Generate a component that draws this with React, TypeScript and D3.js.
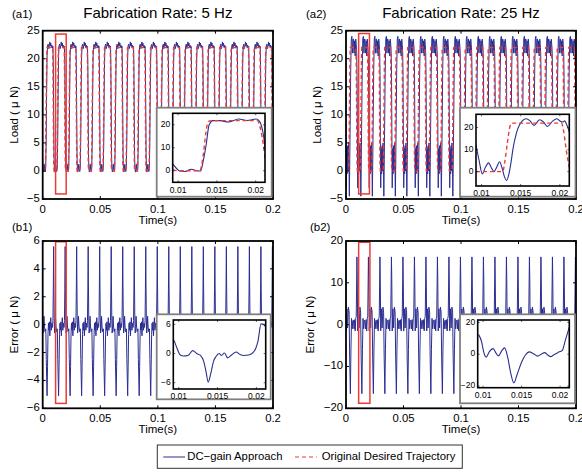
import * as d3 from "d3";

const W = 582;
const H = 473;
const FONT = "'Liberation Sans', Arial, Helvetica, sans-serif";
const BLUE = "#2b2e91";
const RED = "#ec3a36";
const GREY = "#808080";

// tick values
const TIME_TICKS = [0, 0.05, 0.1, 0.15, 0.2];
const LOAD_TICKS = [-5, 0, 5, 10, 15, 20, 25];
const ERR5_TICKS = [-6, -4, -2, 0, 2, 4, 6];
const ERR25_TICKS = [-20, -10, 0, 10, 20];
const INSET_TIME_TICKS = [0.01, 0.015, 0.02];
const INSET_LOAD_TICKS = [0, 10, 20];
const INSET_ERR5_TICKS = [-6, 0, 6];
const INSET_ERR25_TICKS = [-20, 0, 20];

// start time of every 0.01 s cycle (phase 0 = middle of the high plateau)
const CYCLE_STARTS = [
  -0.0035, 0.0065, 0.0165, 0.0265, 0.0365, 0.0465, 0.0565, 0.0665, 0.0765, 0.0865, 0.0965,
  0.1065, 0.1165, 0.1265, 0.1365, 0.1465, 0.1565, 0.1665, 0.1765, 0.1865, 0.1965,
];

// one cycle of the desired trajectory (both rates)
const DESIRED_PHASE = [0, 0.0022, 0.0025, 0.0028, 0.0031, 0.0034, 0.0058, 0.0061, 0.0065, 0.0069, 0.0072, 0.01];
const DESIRED_LOAD = [22, 22, 17, 8, 1, 0, 0, 3, 11, 19, 22, 22];

// one cycle of the DC-gain response, 5 Hz
const LOAD5_PHASE = [0, 0.0005, 0.001, 0.0015, 0.002, 0.0024, 0.0027, 0.003, 0.0033, 0.0036, 0.004, 0.0044, 0.0048, 0.0052, 0.0057, 0.0061, 0.0065, 0.0069, 0.0073, 0.0077, 0.0082, 0.0087, 0.0092, 0.0096, 0.01];
const LOAD5 = [22.3, 22.8, 22.0, 22.4, 21.9, 22.2, 19, 11, 3, 0.5, -0.2, 0.3, 1.2, 0.2, -0.1, 0.5, 5, 14, 20.5, 22.3, 22.6, 21.8, 22.3, 23.0, 22.3];

// one cycle of the DC-gain response, 25 Hz
const LOAD25_PHASE = [0, 0.0005, 0.001, 0.0015, 0.002, 0.0024, 0.0028, 0.0031, 0.0034, 0.0037, 0.0041, 0.0045, 0.0049, 0.0053, 0.0057, 0.0061, 0.0064, 0.0068, 0.0072, 0.0076, 0.0081, 0.0086, 0.0091, 0.0096, 0.01];
const LOAD25 = [23.5, 21.0, 23.2, 20.5, 23.5, 22.5, 21, 17, 6, -3, 4, -0.5, 4.5, 0, 5, 1, -4.5, 2, 10, 18, 23.5, 24, 21, 23.5, 23.5];

// one cycle of the error, 5 Hz
const ERR5_PHASE = [0, 0.0005, 0.001, 0.0015, 0.002, 0.0024, 0.0027, 0.003, 0.0032, 0.0035, 0.0038, 0.0042, 0.0046, 0.005, 0.0055, 0.0062, 0.0066, 0.0073, 0.0077, 0.0081, 0.0085, 0.0089, 0.0093, 0.0097, 0.01];
const ERR5 = [-0.3, 0.5, -0.4, 0.1, -0.2, 0.3, 2.5, 5.6, 3.0, 0.5, -0.6, -0.3, 0.6, -0.1, -0.5, -0.3, -2.5, -5.1, -3.0, -0.7, 0.1, -0.4, 0.2, -0.8, -0.3];

// one cycle of the error, 25 Hz
const ERR25_PHASE = [0, 0.0005, 0.001, 0.0015, 0.002, 0.0024, 0.0027, 0.003, 0.0033, 0.0037, 0.0043, 0.0049, 0.0056, 0.0062, 0.0067, 0.0073, 0.0078, 0.0083, 0.0089, 0.0094, 0.01];
const ERR25 = [1.0, -1.0, 1.2, -1.5, 1.5, 2.0, 9, 16.2, 11, -1.5, 3.8, -0.8, 4.2, 3.0, -8, -16.5, -6, 1.5, -1.0, 1.0, 1.0];

// zoomed window shown in the insets
const INSET_T_DOMAIN = [0.0093, 0.0212];
const INSET_LOAD5_T = [0.0093, 0.0098, 0.0102, 0.0109, 0.0117, 0.0124, 0.0129, 0.0132, 0.0136, 0.014, 0.0145, 0.0154, 0.0165, 0.0178, 0.0189, 0.0201, 0.0205, 0.021, 0.0213];
const INSET_LOAD5 = [3.0, 1.0, -0.1, -0.3, 0.7, 0, -0.1, 3.7, 11, 20, 21.8, 21.8, 21.2, 22.5, 21.9, 22.5, 21.5, 15.5, 7.4];
const INSET_DES5_T = [0.0093, 0.0102, 0.0128, 0.0132, 0.0136, 0.0139, 0.0143, 0.0202, 0.0206, 0.021, 0.0213];
const INSET_DES5 = [0.4, 0, 0, 6, 17, 21.5, 21.8, 21.8, 18.5, 11, 3];
const INSET_LOAD25_T = [0.0093, 0.0097, 0.0101, 0.0105, 0.0109, 0.0113, 0.0116, 0.012, 0.0123, 0.0126, 0.0129, 0.0132, 0.0135, 0.0138, 0.014, 0.0145, 0.0152, 0.0157, 0.0162, 0.0167, 0.0174, 0.0179, 0.0184, 0.0191, 0.0196, 0.02, 0.0204, 0.0206, 0.0209, 0.0212];
const INSET_LOAD25 = [12.2, 5, -1, 2, 4, 1.5, 0, 2.5, 4.5, 2, -2, -4, -1, 5, 10, 18, 23, 24, 23, 21, 23.5, 22.5, 20.5, 23, 24, 23, 22.5, 23, 21, 18];
const INSET_DES25_T = [0.0093, 0.0127, 0.013, 0.0133, 0.0136, 0.0138, 0.0202, 0.0205, 0.0208, 0.0212];
const INSET_DES25 = [0, 0, 5, 13, 20, 22, 22, 18, 10, 2];
const INSET_ERR5_T = [0.0094, 0.0098, 0.0102, 0.0106, 0.0112, 0.0118, 0.0123, 0.0128, 0.0132, 0.0135, 0.0138, 0.0141, 0.0145, 0.0148, 0.0152, 0.0155, 0.0159, 0.0163, 0.0168, 0.0174, 0.0179, 0.0184, 0.019, 0.0195, 0.0199, 0.0202, 0.0206, 0.0209, 0.0212];
const INSET_ERR5 = [2.7, 1.0, -0.3, -0.5, -0.4, 0.6, 0.0, -0.4, -1.5, -3.6, -5.9, -4.3, -1.5, -0.6, 0.0, -0.4, 0.1, -0.9, -0.3, 0.3, -0.2, -0.4, -0.3, 0.1, 1.0, 2.5, 6.1, 6.0, 5.5];
const INSET_ERR25_T = [0.0094, 0.0098, 0.0101, 0.0104, 0.0108, 0.0113, 0.0117, 0.012, 0.0124, 0.0128, 0.0132, 0.0136, 0.014, 0.0144, 0.015, 0.0155, 0.016, 0.0165, 0.0171, 0.0176, 0.018, 0.0184, 0.0188, 0.0193, 0.0199, 0.0203, 0.0207, 0.0212];
const INSET_ERR25 = [12.5, 8, 1, -1.8, 1.5, 3.5, 0.5, -1, 2, 4, -2, -12, -18, -13, -5, -0.5, 1.5, 0.5, -1.2, 0.2, 1, -0.5, -1.5, 0, 1.5, 2.5, 9, 17];

// red zoom boxes: [t0, t1, v0, v1]
const ZOOM_A1 = [0.0112, 0.0204, -4.1, 24.4];
const ZOOM_B1 = [0.0112, 0.0204, -5.65, 5.95];
const ZOOM_A2 = [0.011, 0.0204, -4.1, 24.5];
const ZOOM_B2 = [0.011, 0.0208, -18.8, 19.7];

type Pt = { t: number; v: number };
type Series = { data: Pt[]; color: string; dash?: string; width: number };

const periodic = (phase: number[], vals: number[]): Pt[] =>
  CYCLE_STARTS.flatMap((s) => phase.map((p, i) => ({ t: s + p, v: vals[i] })));
const pairs = (ts: number[], vs: number[]): Pt[] => ts.map((t, i) => ({ t, v: vs[i] }));

const fmt = (v: number) => (v < 0 ? "\u2212" + Math.abs(v) : String(v));

function Inset({ id, outer, inner, yDomain, yTicks, series }: any) {
  const x = d3.scaleLinear().domain(INSET_T_DOMAIN).range([inner.x0, inner.x1]);
  const y = d3.scaleLinear().domain(yDomain).range([inner.y1, inner.y0]);
  const line = d3
    .line<Pt>()
    .x((d) => x(d.t))
    .y((d) => y(d.v))
    .curve(d3.curveMonotoneX);
  return (
    <g>
      <rect x={outer.x} y={outer.y} width={outer.w} height={outer.h} fill="#fff" stroke={GREY} strokeWidth={1.8} />
      <clipPath id={`clip-${id}`}>
        <rect x={inner.x0} y={inner.y0} width={inner.x1 - inner.x0} height={inner.y1 - inner.y0} />
      </clipPath>
      <g clipPath={`url(#clip-${id})`}>
        {series.map((s: Series, i: number) => (
          <path key={i} d={line(s.data) || ""} fill="none" stroke={s.color} strokeWidth={s.width} strokeDasharray={s.dash} />
        ))}
      </g>
      {INSET_TIME_TICKS.map((t) => (
        <g key={`x${t}`}>
          <line x1={x(t)} x2={x(t)} y1={inner.y1} y2={inner.y1 - 2} stroke="#000" strokeWidth={0.6} />
          <line x1={x(t)} x2={x(t)} y1={inner.y0} y2={inner.y0 + 2} stroke="#000" strokeWidth={0.6} />
          <text x={x(t)} y={inner.y1 + 8} textAnchor="middle" dominantBaseline="middle" fontSize={8.5}>
            {t}
          </text>
        </g>
      ))}
      {yTicks.map((v: number) => (
        <g key={`y${v}`}>
          <line x1={inner.x0} x2={inner.x0 + 2} y1={y(v)} y2={y(v)} stroke="#000" strokeWidth={0.6} />
          <line x1={inner.x1} x2={inner.x1 - 2} y1={y(v)} y2={y(v)} stroke="#000" strokeWidth={0.6} />
          <text x={inner.x0 - 2.5} y={y(v)} textAnchor="end" dominantBaseline="middle" fontSize={8.5}>
            {fmt(v)}
          </text>
        </g>
      ))}
      <rect x={inner.x0} y={inner.y0} width={inner.x1 - inner.x0} height={inner.y1 - inner.y0} fill="none" stroke="#000" strokeWidth={1.6} />
    </g>
  );
}

function Panel({ id, box, yDomain, yTicks, series, zoom, yLabel, yLabelX, tag, tagX, tagY, title, inset }: any) {
  const x = d3.scaleLinear().domain([0, 0.2]).range([box.x0, box.x1]);
  const y = d3.scaleLinear().domain(yDomain).range([box.y1, box.y0]);
  const line = d3
    .line<Pt>()
    .x((d) => x(d.t))
    .y((d) => y(d.v));
  const cx = (box.x0 + box.x1) / 2;
  const cy = (box.y0 + box.y1) / 2;
  return (
    <g>
      <clipPath id={`clip-${id}`}>
        <rect x={box.x0} y={box.y0} width={box.x1 - box.x0} height={box.y1 - box.y0} />
      </clipPath>
      <g clipPath={`url(#clip-${id})`}>
        {series.map((s: Series, i: number) => (
          <path key={i} d={line(s.data) || ""} fill="none" stroke={s.color} strokeWidth={s.width} strokeDasharray={s.dash} />
        ))}
      </g>
      <rect
        x={x(zoom[0])}
        y={y(zoom[3])}
        width={x(zoom[1]) - x(zoom[0])}
        height={y(zoom[2]) - y(zoom[3])}
        fill="none"
        stroke={RED}
        strokeWidth={1.5}
      />
      {TIME_TICKS.map((t) => (
        <g key={`x${t}`}>
          <line x1={x(t)} x2={x(t)} y1={box.y1} y2={box.y1 - 3} stroke="#000" />
          <line x1={x(t)} x2={x(t)} y1={box.y0} y2={box.y0 + 3} stroke="#000" />
          <text x={x(t)} y={box.y1 + 11} textAnchor="middle" dominantBaseline="middle" fontSize={11.3}>
            {t}
          </text>
        </g>
      ))}
      {yTicks.map((v: number) => (
        <g key={`y${v}`}>
          <line x1={box.x0} x2={box.x0 + 3} y1={y(v)} y2={y(v)} stroke="#000" />
          <line x1={box.x1} x2={box.x1 - 3} y1={y(v)} y2={y(v)} stroke="#000" />
          <text x={box.x0 - 3} y={y(v)} textAnchor="end" dominantBaseline="middle" fontSize={11.3}>
            {fmt(v)}
          </text>
        </g>
      ))}
      <rect x={box.x0} y={box.y0} width={box.x1 - box.x0} height={box.y1 - box.y0} fill="none" stroke="#000" strokeWidth={1.8} />
      <Inset id={`${id}-in`} {...inset} />
      <text x={cx} y={box.y1 + 22} textAnchor="middle" dominantBaseline="middle" fontSize={11.5}>
        Time(s)
      </text>
      <text transform={`translate(${yLabelX} ${cy}) rotate(-90)`} textAnchor="middle" dominantBaseline="middle" fontSize={11.5}>
        {yLabel}
      </text>
      <text x={tagX} y={tagY} dominantBaseline="middle" fontSize={11.5}>
        {tag}
      </text>
      {title && (
        <text x={cx} y={18} textAnchor="middle" fontSize={15}>
          {title}
        </text>
      )}
    </g>
  );
}

export default function App() {
  const desired = periodic(DESIRED_PHASE, DESIRED_LOAD);
  const redDash = { color: RED, dash: "4 3", width: 1.4 };
  const A = { x0: 42.7, x1: 273 };
  const B = { x0: 346, x1: 576 };
  const top = { y0: 30.7, y1: 199 };
  const bot = { y0: 241, y1: 408.3 };
  return (
    <svg width={W} height={H} viewBox={`0 0 ${W} ${H}`} style={{ position: "absolute", left: 0, top: 0, background: "#fff" }} fontFamily={FONT}>
      <rect width={W} height={H} fill="#fff" />
      <Panel
        id="a1"
        box={{ ...A, ...top }}
        yDomain={[-5, 25]}
        yTicks={LOAD_TICKS}
        series={[{ data: periodic(LOAD5_PHASE, LOAD5), color: BLUE, width: 1 }, { data: desired, ...redDash }]}
        zoom={ZOOM_A1}
        yLabel="Load ( μ N)"
        yLabelX={15}
        tag="(a1)"
        tagX={12}
        tagY={15}
        title="Fabrication Rate: 5 Hz"
        inset={{
          outer: { x: 156.7, y: 107.7, w: 115, h: 89 },
          inner: { x0: 172.7, x1: 265, y0: 113.3, y1: 182.3 },
          yDomain: [-5, 25],
          yTicks: INSET_LOAD_TICKS,
          series: [
            { data: pairs(INSET_LOAD5_T, INSET_LOAD5), color: BLUE, width: 1.1 },
            { data: pairs(INSET_DES5_T, INSET_DES5), ...redDash },
          ],
        }}
      />
      <Panel
        id="a2"
        box={{ ...B, ...top }}
        yDomain={[-5, 25]}
        yTicks={LOAD_TICKS}
        series={[{ data: periodic(LOAD25_PHASE, LOAD25), color: BLUE, width: 1 }, { data: desired, ...redDash }]}
        zoom={ZOOM_A2}
        yLabel="Load ( μ N)"
        yLabelX={318}
        tag="(a2)"
        tagX={306}
        tagY={15}
        title="Fabrication Rate: 25 Hz"
        inset={{
          outer: { x: 460, y: 107.7, w: 115.5, h: 89 },
          inner: { x0: 476, x1: 569.3, y0: 114.3, y1: 186 },
          yDomain: [-6.5, 26],
          yTicks: INSET_LOAD_TICKS,
          series: [
            { data: pairs(INSET_LOAD25_T, INSET_LOAD25), color: BLUE, width: 1.1 },
            { data: pairs(INSET_DES25_T, INSET_DES25), ...redDash },
          ],
        }}
      />
      <Panel
        id="b1"
        box={{ ...A, ...bot }}
        yDomain={[-6, 6]}
        yTicks={ERR5_TICKS}
        series={[{ data: periodic(ERR5_PHASE, ERR5), color: BLUE, width: 1 }]}
        zoom={ZOOM_B1}
        yLabel="Error ( μ N)"
        yLabelX={15}
        tag="(b1)"
        tagX={12}
        tagY={227.7}
        inset={{
          outer: { x: 156.7, y: 314.3, w: 114, h: 85 },
          inner: { x0: 173.3, x1: 265.7, y0: 320, y1: 389 },
          yDomain: [-7.3, 6.9],
          yTicks: INSET_ERR5_TICKS,
          series: [{ data: pairs(INSET_ERR5_T, INSET_ERR5), color: BLUE, width: 1.1 }],
        }}
      />
      <Panel
        id="b2"
        box={{ ...B, ...bot }}
        yDomain={[-20, 20]}
        yTicks={ERR25_TICKS}
        series={[{ data: periodic(ERR25_PHASE, ERR25), color: BLUE, width: 1 }]}
        zoom={ZOOM_B2}
        yLabel="Error ( μ N)"
        yLabelX={311}
        tag="(b2)"
        tagX={310}
        tagY={227.7}
        inset={{
          outer: { x: 460, y: 314.3, w: 115, h: 89 },
          inner: { x0: 477.7, x1: 569.3, y0: 320, y1: 387.7 },
          yDomain: [-21, 21.5],
          yTicks: INSET_ERR25_TICKS,
          series: [{ data: pairs(INSET_ERR25_T, INSET_ERR25), color: BLUE, width: 1.1 }],
        }}
      />
      <g>
        <rect x={157.3} y={445} width={305} height={23.3} fill="#fff" stroke="#333" strokeWidth={1} />
        <line x1={163.3} x2={185} y1={457} y2={457} stroke={BLUE} strokeWidth={1} />
        <text x={187.3} y={457} dominantBaseline="middle" fontSize={11.3}>
          DC−gain Approach
        </text>
        <line x1={295} x2={316.7} y1={457} y2={457} stroke={RED} strokeWidth={1.2} strokeDasharray="4 3" />
        <text x={321.7} y={457} dominantBaseline="middle" fontSize={11.3}>
          Original Desired Trajectory
        </text>
      </g>
    </svg>
  );
}
